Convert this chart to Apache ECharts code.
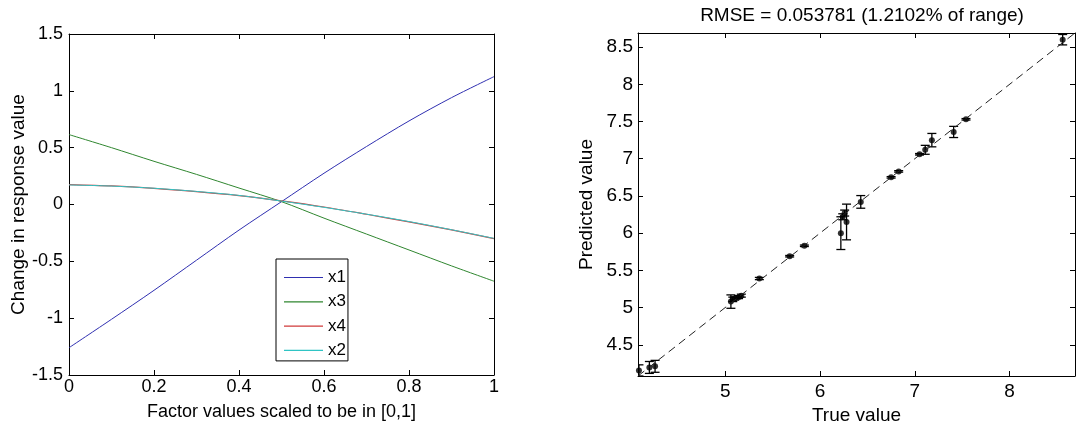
<!DOCTYPE html>
<html>
<head>
<meta charset="utf-8">
<script src="https://cdn.jsdelivr.net/npm/echarts@6/dist/echarts.min.js"></script>
<style>
  html, body { margin: 0; padding: 0; background: #fff; }
  #chart { width: 1076px; height: 430px; }
</style>
</head>
<body>
<div id="chart"></div>
<script>
// left panel: main effects, factor values in [0,1]
const factorX = [0, 0.1, 0.2, 0.3, 0.4, 0.5, 0.6, 0.7, 0.8, 0.9, 1.0];
const effX1 = [-1.26, -1.01, -0.755, -0.49, -0.225, 0.025, 0.275, 0.51, 0.735, 0.94, 1.125];
const effX3 = [0.615, 0.50, 0.38, 0.265, 0.145, 0.025, -0.12, -0.26, -0.40, -0.54, -0.675];
const effX4 = [0.175, 0.163, 0.142, 0.113, 0.078, 0.032, -0.022, -0.086, -0.153, -0.224, -0.30];
const effX2 = [0.172, 0.162, 0.143, 0.115, 0.080, 0.030, -0.025, -0.085, -0.150, -0.222, -0.298];

// right panel: predicted vs true with error bars
const trueVals = [4.09, 4.20, 4.26, 5.06, 5.08, 5.10, 5.14, 5.17, 5.36, 5.68, 5.835, 6.22, 6.24, 6.26, 6.28, 6.43, 6.75, 6.83, 7.05, 7.11, 7.18, 7.41, 7.54, 8.56];
const predVals = [4.155, 4.195, 4.21, 5.08, 5.11, 5.12, 5.14, 5.16, 5.39, 5.69, 5.83, 6.00, 6.22, 6.27, 6.15, 6.42, 6.75, 6.83, 7.06, 7.12, 7.25, 7.36, 7.53, 8.60];
const errHalf = [0.075, 0.08, 0.08, 0.09, 0.03, 0.02, 0.02, 0.02, 0.015, 0.01, 0.01, 0.22, 0.04, 0.04, 0.24, 0.085, 0.01, 0.01, 0.01, 0.06, 0.09, 0.075, 0.01, 0.07];
const rangeMin = 4.08;
const rangeMax = 8.69;

const rightXTicks = [5, 6, 7, 8];
const rightYTicks = [4.5, 5, 5.5, 6, 6.5, 7, 7.5, 8, 8.5];

const FONT = "Liberation Sans, Arial, sans-serif";
const LINE_ICON = "path://M0 0H39V1.2H0Z";
const chart = echarts.init(document.getElementById("chart"));

const pairs = (xs, ys) => xs.map((x, i) => [x, ys[i]]);

const baseAxis = {
  axisLine: { onZero: false, lineStyle: { color: "#000", width: 1 } },
  axisTick: { inside: true, length: 5, lineStyle: { color: "#000" } },
  splitLine: { show: false },
};
const noLabel = { show: false };

const errData = trueVals.map((t, i) => [t, predVals[i] - errHalf[i], predVals[i] + errHalf[i]]);

const option = {
  animation: false,
  textStyle: { fontFamily: FONT, color: "#000" },
  title: {
    text: "RMSE = 0.053781 (1.2102% of range)",
    left: 857,
    textAlign: "center",
    top: 1,
    textStyle: { fontFamily: FONT, fontSize: 19, fontWeight: "normal", color: "#000" },
  },
  legend: {
    data: [
      { name: "x1", icon: LINE_ICON },
      { name: "x3", icon: LINE_ICON },
      { name: "x4", icon: LINE_ICON },
      { name: "x2", icon: LINE_ICON },
    ],
    orient: "vertical",
    left: 276,
    top: 259,
    padding: [10, 2, 2, 8],
    itemWidth: 39,
    itemHeight: 14,
    itemGap: 7.3,
    backgroundColor: "#fff",
    borderColor: "#000",
    borderWidth: 1,
    borderRadius: 0,
    textStyle: { fontFamily: FONT, fontSize: 17, color: "#000" },
  },
  grid: [
    { left: 69, top: 34, width: 425, height: 341 },
    { left: 638, top: 33, width: 437, height: 343 },
  ],
  xAxis: [
    {
      ...baseAxis, type: "value", gridIndex: 0, min: 0, max: 1, interval: 0.2,
      axisLabel: { fontSize: 18, color: "#000", margin: 3 },
      name: "Factor values scaled to be in [0,1]", nameLocation: "middle", nameGap: 28,
      nameTextStyle: { fontSize: 18, color: "#000" },
    },
    { ...baseAxis, type: "value", gridIndex: 0, position: "top", min: 0, max: 1, interval: 0.2, axisLabel: noLabel },
    {
      ...baseAxis, type: "value", gridIndex: 1, min: rangeMin, max: rangeMax,
      axisTick: { ...baseAxis.axisTick, customValues: rightXTicks },
      axisLabel: { fontSize: 19, color: "#000", margin: 6, customValues: rightXTicks },
      name: "True value", nameLocation: "middle", nameGap: 28,
      nameTextStyle: { fontSize: 19, color: "#000" },
    },
    {
      ...baseAxis, type: "value", gridIndex: 1, position: "top", min: rangeMin, max: rangeMax,
      axisTick: { ...baseAxis.axisTick, customValues: rightXTicks }, axisLabel: noLabel,
    },
  ],
  yAxis: [
    {
      ...baseAxis, type: "value", gridIndex: 0, min: -1.5, max: 1.5, interval: 0.5,
      axisLabel: { fontSize: 18, color: "#000", margin: 6 },
      name: "Change in response value", nameLocation: "middle", nameGap: 40, nameRotate: 90,
      nameTextStyle: { fontSize: 19, color: "#000" },
    },
    { ...baseAxis, type: "value", gridIndex: 0, position: "right", min: -1.5, max: 1.5, interval: 0.5, axisLabel: noLabel },
    {
      ...baseAxis, type: "value", gridIndex: 1, min: rangeMin, max: rangeMax,
      axisTick: { ...baseAxis.axisTick, customValues: rightYTicks },
      axisLabel: { fontSize: 19, color: "#000", margin: 5, customValues: rightYTicks },
      name: "Predicted value", nameLocation: "middle", nameGap: 42, nameRotate: 90,
      nameTextStyle: { fontSize: 19, color: "#000" },
    },
    {
      ...baseAxis, type: "value", gridIndex: 1, position: "right", min: rangeMin, max: rangeMax,
      axisTick: { ...baseAxis.axisTick, customValues: rightYTicks }, axisLabel: noLabel,
    },
  ],
  series: [
    { name: "x1", type: "line", xAxisIndex: 0, yAxisIndex: 0, data: pairs(factorX, effX1), smooth: 0.3, symbol: "none", color: "#2f2fb0", lineStyle: { width: 1 } },
    { name: "x3", type: "line", xAxisIndex: 0, yAxisIndex: 0, data: pairs(factorX, effX3), smooth: 0.3, symbol: "none", color: "#2f862f", lineStyle: { width: 1 } },
    { name: "x4", type: "line", xAxisIndex: 0, yAxisIndex: 0, data: pairs(factorX, effX4), smooth: 0.3, symbol: "none", color: "#d03a3a", lineStyle: { width: 1.2 } },
    { name: "x2", type: "line", xAxisIndex: 0, yAxisIndex: 0, data: pairs(factorX, effX2), smooth: 0.3, symbol: "none", color: "#2fc4c4", lineStyle: { width: 1 } },
    {
      type: "line", xAxisIndex: 2, yAxisIndex: 2,
      data: [[rangeMin, rangeMin], [rangeMax, rangeMax]],
      symbol: "none", color: "#222",
      lineStyle: { width: 1, type: [8, 5] },
    },
    {
      type: "custom", xAxisIndex: 2, yAxisIndex: 2, data: errData, clip: true,
      renderItem: (params, api) => {
        const lo = api.coord([api.value(0), api.value(1)]);
        const hi = api.coord([api.value(0), api.value(2)]);
        const hw = 4.5;
        const st = { stroke: "#000", lineWidth: 1.3 };
        return {
          type: "group",
          children: [
            { type: "line", shape: { x1: lo[0], y1: lo[1], x2: hi[0], y2: hi[1] }, style: st },
            { type: "line", shape: { x1: lo[0] - hw, y1: lo[1], x2: lo[0] + hw, y2: lo[1] }, style: st },
            { type: "line", shape: { x1: hi[0] - hw, y1: hi[1], x2: hi[0] + hw, y2: hi[1] }, style: st },
          ],
        };
      },
    },
    {
      type: "scatter", xAxisIndex: 2, yAxisIndex: 2,
      data: pairs(trueVals, predVals),
      symbol: "circle", symbolSize: 6, itemStyle: { color: "#000" },
    },
  ],
};

chart.setOption(option);
</script>
</body>
</html>
